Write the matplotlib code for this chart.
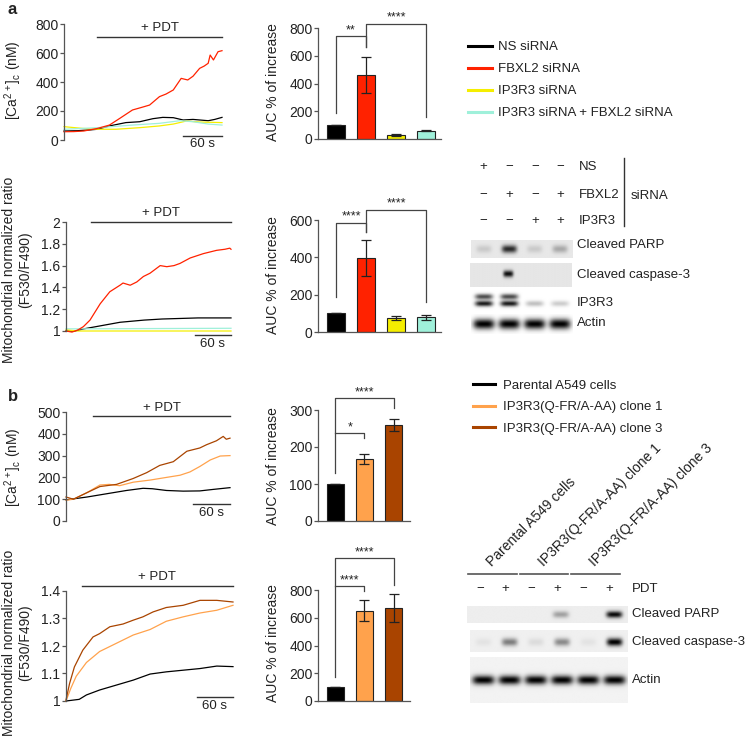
import numpy as np
import matplotlib.pyplot as plt
from matplotlib.lines import Line2D

plt.rcParams['font.family'] = ['Liberation Sans', 'DejaVu Sans']
plt.rcParams['mathtext.default'] = 'regular'
plt.rcParams['font.size'] = 9.5
plt.rcParams['text.color'] = '#222222'
plt.rcParams['axes.edgecolor'] = '#555555'
plt.rcParams['axes.linewidth'] = 0.9
plt.rcParams['ytick.color'] = '#555555'
plt.rcParams['ytick.labelcolor'] = '#222222'
plt.rcParams['ytick.labelsize'] = 10

BLACK = '#000000'
RED = '#ff2200'
YELLOW = '#f5ee00'
MINT = '#9ff0da'
ORANGE = '#ffa24c'
BROWN = '#a94400'

# ---- panel a, cytosolic Ca2+ traces (time in s) ----
a_ca_dur = 240
a_ca_red_t = [0, 15, 30, 51, 69, 85, 104, 118, 130, 145, 155, 166, 178, 188, 196, 206, 213, 219, 222, 227, 234, 240]
a_ca_red = [57, 58, 62, 80, 103, 150, 207, 225, 241, 299, 317, 345, 425, 414, 440, 494, 510, 529, 586, 552, 609, 616]
a_ca_black_t = [0, 20, 40, 51, 69, 94, 115, 135, 150, 166, 181, 196, 219, 229, 240]
a_ca_black = [62, 64, 70, 74, 97, 120, 126, 147, 156, 154, 138, 142, 133, 142, 156]
a_ca_yellow_t = [0, 28, 51, 79, 115, 145, 166, 186, 206, 240]
a_ca_yellow = [92, 80, 74, 74, 85, 97, 110, 131, 124, 120]
a_ca_mint_t = [0, 51, 104, 145, 176, 196, 219, 240]
a_ca_mint = [74, 85, 103, 115, 133, 126, 110, 103]

# ---- panel a, mitochondrial ratio traces ----
a_mt_dur = 275
a_mt_red_t = [0, 10, 20, 29, 40, 57, 73, 90, 95, 107, 118, 129, 140, 157, 168, 180, 190, 207, 229, 251, 265, 273, 275]
a_mt_red = [1.0, 0.99, 1.01, 1.04, 1.10, 1.25, 1.36, 1.42, 1.44, 1.42, 1.45, 1.50, 1.53, 1.60, 1.59, 1.60, 1.62, 1.67, 1.71, 1.74, 1.75, 1.76, 1.75]
a_mt_black_t = [0, 15, 30, 50, 70, 90, 110, 130, 160, 190, 220, 250, 275]
a_mt_black = [1.0, 1.0, 1.02, 1.04, 1.06, 1.08, 1.09, 1.10, 1.11, 1.115, 1.12, 1.12, 1.12]
a_mt_yellow_t = [0, 20, 275]
a_mt_yellow = [1.01, 1.0, 1.0]
a_mt_mint_t = [0, 20, 275]
a_mt_mint = [1.02, 1.02, 1.025]

# ---- panel a, AUC bars ----
a_ca_auc = [100, 460, 30, 60]
a_ca_err = [0, 130, 5, 5]
a_mt_auc = [100, 395, 75, 78]
a_mt_err = [0, 97, 10, 15]
a_colors = [BLACK, RED, YELLOW, MINT]
a_labels = ['NS siRNA', 'FBXL2 siRNA', 'IP3R3 siRNA', 'IP3R3 siRNA + FBXL2 siRNA']

# ---- panel b, cytosolic Ca2+ traces ----
b_ca_dur = 266
b_ca_brown_t = [0, 12, 34, 55, 82, 109, 131, 152, 174, 196, 217, 228, 244, 255, 260, 266]
b_ca_brown = [110, 100, 130, 158, 168, 195, 222, 255, 272, 320, 335, 350, 368, 388, 375, 380]
b_ca_orange_t = [0, 12, 34, 55, 70, 87, 109, 137, 163, 185, 201, 217, 234, 250, 266]
b_ca_orange = [95, 100, 130, 165, 168, 162, 178, 188, 200, 210, 225, 250, 280, 298, 300]
b_ca_black_t = [0, 34, 66, 98, 125, 140, 163, 190, 217, 239, 266]
b_ca_black = [97, 110, 125, 140, 150, 148, 140, 137, 138, 145, 153]

# ---- panel b, mitochondrial ratio traces ----
b_mt_dur = 278
b_mt_brown_t = [0, 6, 14, 28, 45, 56, 73, 95, 112, 128, 145, 167, 195, 223, 251, 278]
b_mt_brown = [1.004, 1.064, 1.124, 1.185, 1.233, 1.245, 1.27, 1.28, 1.294, 1.306, 1.324, 1.34, 1.348, 1.366, 1.366, 1.36]
b_mt_orange_t = [0, 8, 17, 34, 56, 84, 112, 140, 167, 195, 223, 251, 278]
b_mt_orange = [1.0, 1.046, 1.09, 1.14, 1.18, 1.21, 1.24, 1.26, 1.29, 1.306, 1.32, 1.33, 1.348]
b_mt_black_t = [0, 22, 34, 56, 84, 112, 140, 167, 195, 223, 251, 278]
b_mt_black = [1.0, 1.006, 1.022, 1.04, 1.058, 1.076, 1.098, 1.106, 1.112, 1.118, 1.127, 1.125]

# ---- panel b, AUC bars ----
b_ca_auc = [100, 168, 260]
b_ca_err = [0, 14, 16]
b_mt_auc = [100, 650, 670]
b_mt_err = [0, 75, 100]
b_colors = [BLACK, ORANGE, BROWN]
b_labels = ['Parental A549 cells', 'IP3R3(Q-FR/A-AA) clone 1', 'IP3R3(Q-FR/A-AA) clone 3']

# ---- western blots: band intensities per lane (0 = none, 1 = black) ----
a_ns = ['+', '−', '−', '−']
a_fbxl2 = ['−', '+', '−', '+']
a_ip3r3 = ['−', '−', '+', '+']
a_parp = [0.12, 0.75, 0.12, 0.25]
a_casp = [0.0, 0.85, 0.0, 0.0]
a_ip3_upper = [0.7, 0.7, 0.0, 0.0]
a_ip3_lower = [0.9, 0.9, 0.25, 0.2]
a_actin = [1.0, 1.0, 1.0, 1.0]

b_pdt = ['−', '+', '−', '+', '−', '+']
b_parp = [0.0, 0.0, 0.0, 0.3, 0.0, 0.9]
b_casp = [0.05, 0.45, 0.08, 0.4, 0.05, 0.95]
b_actin = [0.95, 0.95, 0.95, 0.95, 0.95, 0.95]

W, H = 750, 740
fig = plt.figure(figsize=(7.5, 7.4), dpi=100)

CA_LABEL = '[Ca$^{\\mathregular{2+}}$]$_{\\mathregular{c}}$ (nM)'
MT_LABEL = 'Mitochondrial normalized ratio\n(F530/F490)'


def box(l, t, r, b):
    return fig.add_axes([l / W, 1 - b / H, (r - l) / W, (b - t) / H])


def ftext(x, y, s, **kw):
    kw.setdefault('ha', 'center')
    kw.setdefault('va', 'center')
    fig.text(x / W, 1 - y / H, s, **kw)


def fline(xs, ys, **kw):
    fig.add_artist(Line2D([x / W for x in xs], [1 - y / H for y in ys],
                          transform=fig.transFigure, **kw))


def trace_panel(ax, traces, dur, ylim, yticks, yticklabels, pdt_start, pdt_y, sb_y):
    for t, v, c in traces:
        ax.plot(t, v, color=c, lw=0.9, clip_on=False)
    ax.set_xlim(0, dur)
    ax.set_ylim(*ylim)
    ax.set_yticks(yticks)
    ax.set_yticklabels(yticklabels)
    ax.set_xticks([])
    for s in ['top', 'right', 'bottom']:
        ax.spines[s].set_visible(False)
    ax.tick_params(axis='y', length=3, width=0.9, pad=1)
    # treatment bar
    ax.plot([pdt_start, dur], [pdt_y, pdt_y], color='#333333', lw=1.0, clip_on=False)
    ax.annotate('+ PDT', ((pdt_start + dur) / 2, pdt_y), xytext=(0, 2),
                textcoords='offset points', ha='center', va='bottom',
                annotation_clip=False)
    # 60 s scale bar
    ax.plot([dur - 60, dur], [sb_y, sb_y], color='#333333', lw=1.0, clip_on=False)
    ax.annotate('60 s', (dur - 30, sb_y), xytext=(0, -2),
                textcoords='offset points', ha='center', va='top',
                annotation_clip=False)


def bar_panel(ax, vals, errs, colors, xlim, ytop, yticks, brackets):
    x = np.arange(len(vals))
    ax.bar(x, vals, width=0.58, color=colors, edgecolor='#222222', lw=0.8,
           yerr=errs, capsize=3.5,
           error_kw=dict(elinewidth=0.9, capthick=0.9, ecolor='#222222'))
    ax.set_xlim(*xlim)
    ax.set_ylim(0, ytop)
    ax.set_yticks(yticks)
    ax.set_xticks([])
    for s in ['top', 'right']:
        ax.spines[s].set_visible(False)
    ax.tick_params(axis='y', length=3, width=0.9, pad=1)
    for x1, x2, y1, top, y2, label in brackets:
        ax.plot([x1, x1, x2, x2], [y1, top, top, y2], color='#444444', lw=0.9,
                clip_on=False)
        ax.annotate(label, ((x1 + x2) / 2, top), xytext=(0, 0),
                    textcoords='offset points', ha='center', va='bottom',
                    fontsize=9, annotation_clip=False)


def blot(ax, bands, bg, n):
    ny, nx = 60, n * 40
    yy = np.linspace(0, 1, ny)[:, None]
    xx = np.linspace(0.5, n + 0.5, nx)[None, :]
    img = np.full((ny, nx), bg)
    for yc, h, w, ints in bands:
        for i, inten in enumerate(ints):
            prof = np.exp(-((xx - (i + 1)) / w) ** 4) * np.exp(-((yy - yc) / h) ** 2)
            img = img - inten * prof
    ax.imshow(np.clip(img, 0, 1), cmap='gray', vmin=0, vmax=1, aspect='auto',
              extent=(0.5, n + 0.5, 1, 0), interpolation='bilinear')
    ax.axis('off')


# ================= panel a =================
ftext(8, 10, 'a', ha='left', fontsize=12, fontweight='bold')

ax = box(64, 24, 222, 140)
trace_panel(ax, [(a_ca_black_t, a_ca_black, BLACK), (a_ca_yellow_t, a_ca_yellow, YELLOW),
                 (a_ca_mint_t, a_ca_mint, MINT), (a_ca_red_t, a_ca_red, RED)],
            a_ca_dur, (0, 800), [0, 200, 400, 600, 800], ['0', '200', '400', '600', '800'],
            50, 710, 30)
ftext(13, 80, CA_LABEL, rotation=90, fontsize=10)

ax = box(66, 222, 231, 331)
trace_panel(ax, [(a_mt_black_t, a_mt_black, BLACK), (a_mt_mint_t, a_mt_mint, MINT),
                 (a_mt_yellow_t, a_mt_yellow, YELLOW), (a_mt_red_t, a_mt_red, RED)],
            a_mt_dur, (1, 2), [1, 1.2, 1.4, 1.6, 1.8, 2], ['1', '1.2', '1.4', '1.6', '1.8', '2'],
            42, 2.0, 0.963)
ftext(17, 270, MT_LABEL, rotation=90, linespacing=1.2, fontsize=10)

ax = box(318, 28, 441, 139)
bar_panel(ax, a_ca_auc, a_ca_err, a_colors, (-0.6, 3.5), 800, [0, 200, 400, 600, 800],
          [(0, 1, 190, 740, 665, '**'), (1, 3, 665, 830, 160, '****')])
ftext(273, 82, 'AUC % of increase', rotation=90, fontsize=10)

ax = box(318, 220, 441, 332)
bar_panel(ax, a_mt_auc, a_mt_err, a_colors, (-0.6, 3.5), 600, [0, 200, 400, 600],
          [(0, 1, 188, 585, 535, '****'), (1, 3, 535, 655, 160, '****')])
ftext(273, 275, 'AUC % of increase', rotation=90, fontsize=10)

fig.legend([Line2D([], [], color=c, lw=2.2) for c in a_colors], a_labels,
           loc='upper left', bbox_to_anchor=(468 / W, 1 - 41 / H), frameon=False,
           handlelength=1.8, handletextpad=0.45, labelspacing=0.74,
           borderaxespad=0, borderpad=0, fontsize=9.5)

# blot a
a_l, a_r = 471, 573
a_lane = [a_l + (i + 0.5) * (a_r - a_l) / 4 for i in range(4)]
for y, row, name in [(167, a_ns, 'NS'), (195, a_fbxl2, 'FBXL2'), (221, a_ip3r3, 'IP3R3')]:
    for x, s in zip(a_lane, row):
        ftext(x, y, s)
    ftext(579, y, name, ha='left')
fline([624, 624], [158, 226], color='#333333', lw=1.0)
ftext(631, 196, 'siRNA', ha='left')

blot(box(a_l, 240, a_r, 258), [(0.5, 0.22, 0.3, a_parp)], 0.91, 4)
ftext(577, 245, 'Cleaved PARP', ha='left')
blot(box(a_l - 1, 263, a_r - 1, 287), [(0.45, 0.14, 0.2, a_casp)], 0.9, 4)
ftext(577, 275, 'Cleaved caspase-3', ha='left')
blot(box(a_l, 290, a_r, 312), [(0.3, 0.13, 0.35, a_ip3_upper), (0.62, 0.13, 0.35, a_ip3_lower)], 1.0, 4)
ftext(577, 303, 'IP3R3', ha='left')
blot(box(a_l, 314, a_r, 334), [(0.5, 0.26, 0.42, a_actin)], 1.0, 4)
ftext(577, 323, 'Actin', ha='left')

# ================= panel b =================
ftext(8, 397, 'b', ha='left', fontsize=12, fontweight='bold')

ax = box(66, 412, 230, 521)
trace_panel(ax, [(b_ca_black_t, b_ca_black, BLACK), (b_ca_orange_t, b_ca_orange, ORANGE),
                 (b_ca_brown_t, b_ca_brown, BROWN)],
            b_ca_dur, (0, 500), [0, 100, 200, 300, 400, 500], ['0', '100', '200', '300', '400', '500'],
            44, 480, 77)
ftext(13, 467, CA_LABEL, rotation=90, fontsize=10)

ax = box(66, 591, 233, 701)
trace_panel(ax, [(b_mt_black_t, b_mt_black, BLACK), (b_mt_orange_t, b_mt_orange, ORANGE),
                 (b_mt_brown_t, b_mt_brown, BROWN)],
            b_mt_dur, (1, 1.4), [1, 1.1, 1.2, 1.3, 1.4], ['1', '1.1', '1.2', '1.3', '1.4'],
            26, 1.42, 1.015)
ftext(17, 643, MT_LABEL, rotation=90, linespacing=1.2, fontsize=10)

ax = box(318, 410, 410, 521)
bar_panel(ax, b_ca_auc, b_ca_err, b_colors, (-0.58, 2.55), 300, [0, 100, 200, 300],
          [(0, 1, 238, 238, 224, '*'), (0, 2, 130, 332, 305, '****')])
ftext(273, 466, 'AUC % of increase', rotation=90, fontsize=10)

ax = box(318, 590, 410, 701)
bar_panel(ax, b_mt_auc, b_mt_err, b_colors, (-0.58, 2.55), 800, [0, 200, 400, 600, 800],
          [(0, 1, 829, 829, 793, '****'), (0, 2, 173, 1030, 836, '****')])
ftext(273, 643, 'AUC % of increase', rotation=90, fontsize=10)

fig.legend([Line2D([], [], color=c, lw=2.2) for c in b_colors], b_labels,
           loc='upper left', bbox_to_anchor=(473 / W, 1 - 379.5 / H), frameon=False,
           handlelength=1.7, handletextpad=0.6, labelspacing=0.7,
           borderaxespad=0, borderpad=0, fontsize=9.5)

# blot b
b_l, b_r = 467, 622
b_lane = [b_l + (i + 0.5) * (b_r - b_l) / 6 for i in range(6)]
for g, name in enumerate(b_labels):
    x0 = b_lane[2 * g] - 12
    x1 = b_lane[2 * g + 1] + 11
    fline([x0, x1], [574, 574], color='#555555', lw=1.2)
    ftext(x0 + 24, 567, name, ha='left', va='baseline', rotation=45,
          rotation_mode='anchor', fontsize=10)
for x, s in zip(b_lane, b_pdt):
    ftext(x, 589, s)
ftext(632, 589, 'PDT', ha='left')

blot(box(b_l, 606, b_r + 5, 623), [(0.5, 0.2, 0.3, b_parp)], 0.93, 6)
ftext(632, 614, 'Cleaved PARP', ha='left')
blot(box(b_l + 3, 630, b_r + 5, 652), [(0.55, 0.18, 0.3, b_casp)], 0.94, 6)
ftext(632, 642, 'Cleaved caspase-3', ha='left')
blot(box(b_l + 3, 657, b_r + 5, 703), [(0.5, 0.1, 0.42, b_actin)], 0.95, 6)
ftext(632, 680, 'Actin', ha='left')

fig.savefig('out.png', dpi=100)
